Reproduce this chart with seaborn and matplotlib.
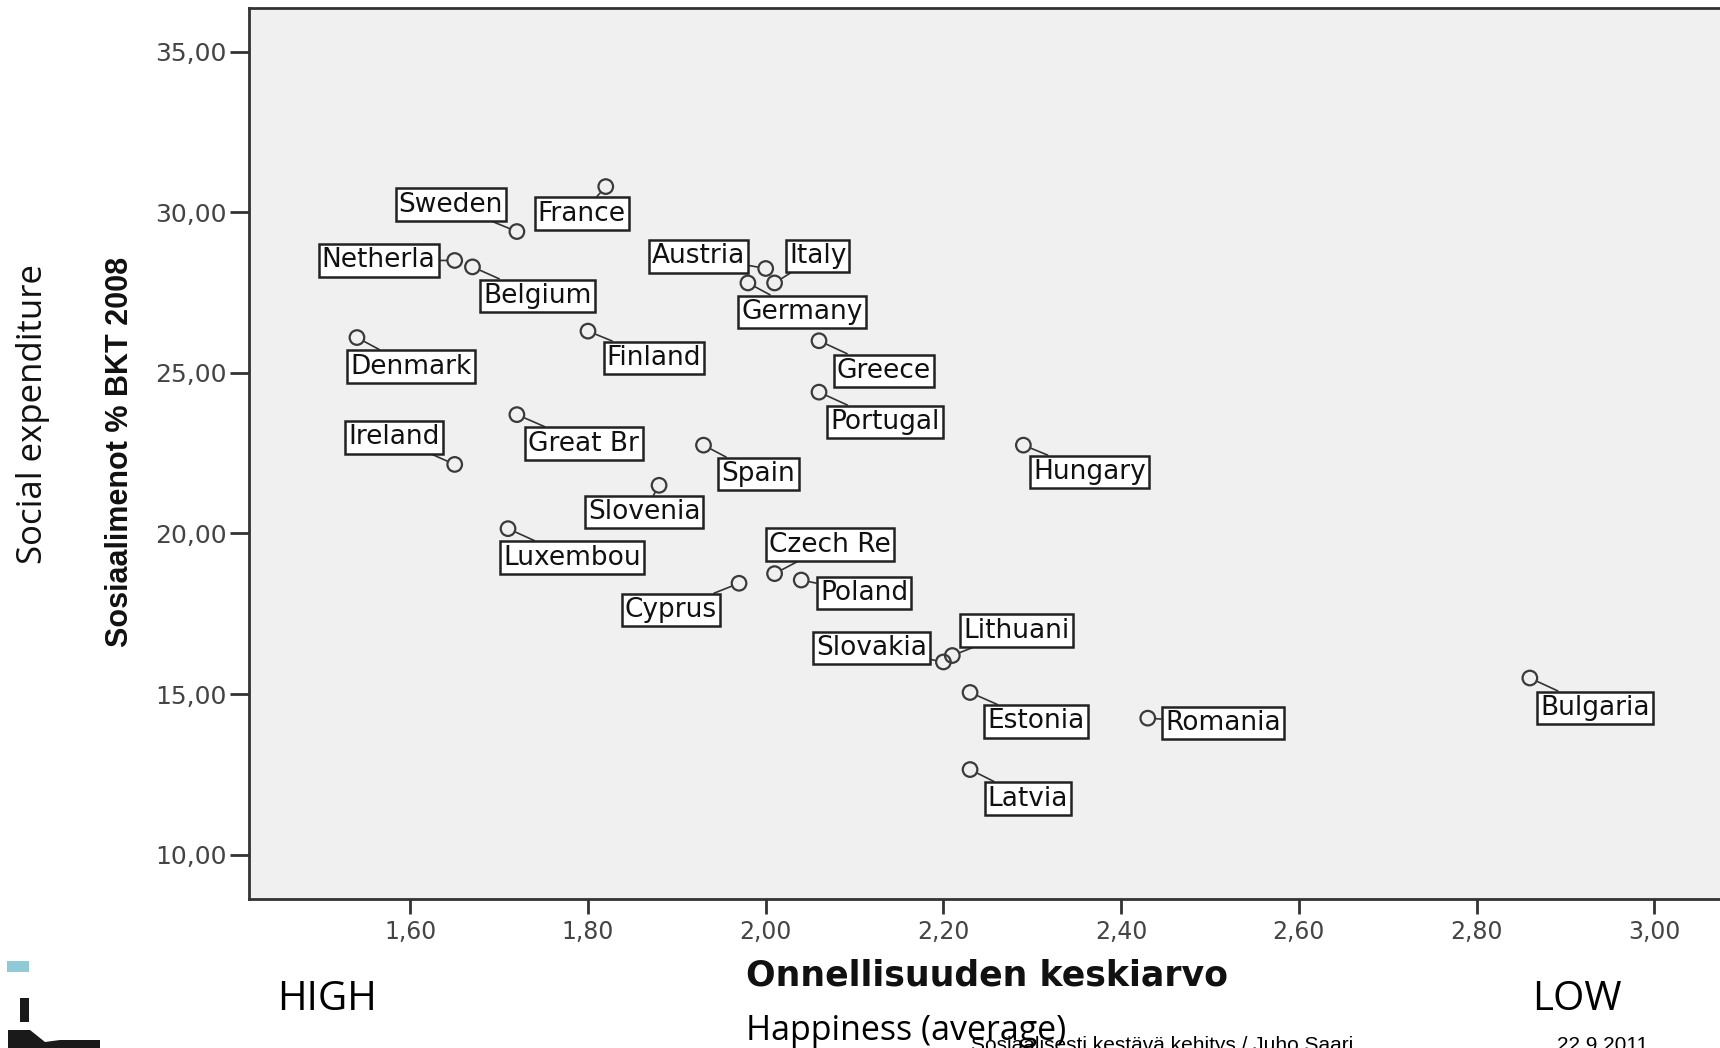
import numpy as np
import pandas as pd
import seaborn as sns
import matplotlib.pyplot as plt
from matplotlib.patches import Rectangle, Polygon
from matplotlib.ticker import FixedLocator, FuncFormatter

countries = ["Sweden", "France", "Netherla", "Belgium", "Austria", "Italy", "Germany",
             "Denmark", "Finland", "Greece", "Portugal", "Ireland", "Great Br", "Spain",
             "Hungary", "Slovenia", "Luxembou", "Czech Re", "Cyprus", "Poland",
             "Lithuani", "Slovakia", "Estonia", "Romania", "Latvia", "Bulgaria"]
happiness = [1.72, 1.82, 1.65, 1.67, 2.00, 2.01, 1.98,
             1.54, 1.80, 2.06, 2.06, 1.65, 1.72, 1.93,
             2.29, 1.88, 1.71, 2.01, 1.97, 2.04,
             2.21, 2.20, 2.23, 2.43, 2.23, 2.86]
social_exp = [29.4, 30.8, 28.5, 28.3, 28.25, 27.8, 27.8,
              26.1, 26.3, 26.0, 24.4, 22.15, 23.7, 22.75,
              22.75, 21.5, 20.15, 18.75, 18.45, 18.55,
              16.2, 16.0, 15.05, 14.25, 12.65, 15.5]

x_ticks = [1.6, 1.8, 2.0, 2.2, 2.4, 2.6, 2.8, 3.0]
y_ticks = [10, 15, 20, 25, 30, 35]

# label box offsets from each point, in pixels (x right, y up)
label_offsets = {
    "Sweden": (-66, 27), "France": (-24, -27), "Netherla": (-76, 0), "Belgium": (65, -29),
    "Austria": (-67, 12), "Italy": (43, 27), "Germany": (54, -29), "Denmark": (54, -29),
    "Finland": (66, -27), "Greece": (65, -30), "Portugal": (66, -30), "Ireland": (-61, 27),
    "Great Br": (67, -29), "Spain": (55, -29), "Hungary": (66, -27), "Slovenia": (-15, -27),
    "Luxembou": (64, -29), "Czech Re": (55, 29), "Cyprus": (-68, -27), "Poland": (63, -13),
    "Lithuani": (64, 25), "Slovakia": (-72, 14), "Estonia": (66, -29), "Romania": (75, -5),
    "Latvia": (58, -29), "Bulgaria": (65, -30),
}

df = pd.DataFrame({"country": countries, "happiness": happiness, "social": social_exp})

DPI = 100
W, H = 1720, 1048
fig = plt.figure(figsize=(W / DPI, H / DPI), dpi=DPI, facecolor="white")
ax = fig.add_axes([249 / W, 1 - 899 / H, 1 - 249 / W, (899 - 8) / H])
ax.set_facecolor("#F0F0F0")

sns.scatterplot(data=df, x="happiness", y="social", ax=ax, s=110,
                facecolors="none", edgecolor="#3a3a3a", linewidth=1.6, zorder=3)

for name, xv, yv in zip(countries, happiness, social_exp):
    dx, dy = label_offsets[name]
    ax.annotate(name, (xv, yv), xytext=(dx * 72 / DPI, dy * 72 / DPI),
                textcoords="offset points", ha="center", va="center",
                fontsize=19, family="DejaVu Sans", color="#111111",
                bbox=dict(boxstyle="square,pad=0.12", fc="white", ec="#222222", lw=1.8),
                arrowprops=dict(arrowstyle="-", color="#333333", lw=1.2,
                                shrinkA=0, shrinkB=6),
                zorder=4)

ax.set_xlim(1.4185, 3.074)
ax.set_ylim(8.62, 36.36)
ax.xaxis.set_major_locator(FixedLocator(x_ticks))
ax.yaxis.set_major_locator(FixedLocator(y_ticks))
ax.xaxis.set_major_formatter(FuncFormatter(lambda v, p: f"{v:.2f}".replace(".", ",")))
ax.yaxis.set_major_formatter(FuncFormatter(lambda v, p: f"{v:.2f}".replace(".", ",")))
ax.tick_params(axis="y", length=14, width=2, color="#333333", pad=2,
               labelsize=18, labelcolor="#444444")
ax.tick_params(axis="x", length=11, width=2, color="#333333", pad=4,
               labelsize=17, labelcolor="#444444")
for lab in ax.get_xticklabels() + ax.get_yticklabels():
    lab.set_family("DejaVu Sans")
for side in ["left", "bottom", "top"]:
    ax.spines[side].set_color("#333333")
    ax.spines[side].set_linewidth(2)
ax.spines["right"].set_visible(False)
ax.set_xlabel("")
ax.set_ylabel("")

# axis titles
fig.text(120 / W, 1 - 452 / H, "Sosiaalimenot % BKT 2008", rotation=90, ha="center",
         va="center", fontsize=22, fontweight="bold", family="Liberation Sans", color="#111111")
fig.text(33 / W, 1 - 414 / H, "Social expenditure", rotation=90, ha="center",
         va="center", fontsize=25, family="Open Sans", color="#111111")
fig.text(987 / W, 1 - 976 / H, "Onnellisuuden keskiarvo", ha="center", va="center",
         fontsize=25, fontweight="bold", family="DejaVu Sans", color="#111111")
fig.text(277 / W, 1 - 1010 / H, "HIGH", ha="left", va="baseline",
         fontsize=29, family="Open Sans", color="black")
fig.text(1532 / W, 1 - 1010 / H, "LOW", ha="left", va="baseline",
         fontsize=29, family="Open Sans", color="black")
fig.text(746 / W, 1 - 1040 / H, "Happiness (average)", ha="left", va="baseline",
         fontsize=24.5, family="Open Sans", color="black")
fig.text(971 / W, 1 - 1036 / H, "Sosiaalisesti kestävä kehitys / Juho Saari", ha="left",
         va="top", fontsize=15, family="Liberation Sans", color="black")
fig.text(1557 / W, 1 - 1036 / H, "22.9.2011", ha="left", va="top",
         fontsize=15, family="Liberation Sans", color="black")

# logo fragments at the bottom left
fig.patches.append(Rectangle((7 / W, 1 - 972 / H), 22 / W, 11 / H,
                             transform=fig.transFigure, fc="#90CAD7", ec="none"))
fig.patches.append(Rectangle((20 / W, 1 - 1022 / H), 9 / W, 24 / H,
                             transform=fig.transFigure, fc="#1a1a1a", ec="none"))
fig.patches.append(Polygon([(8 / W, 1 - 1048 / H), (8 / W, 1 - 1030 / H), (30 / W, 1 - 1030 / H),
                            (45 / W, 1 - 1042 / H), (60 / W, 1 - 1040 / H), (100 / W, 1 - 1040 / H),
                            (100 / W, 1 - 1048 / H)],
                           transform=fig.transFigure, fc="#1a1a1a", ec="none"))

fig.savefig("out.png", dpi=DPI, facecolor="white")
plt.close(fig)
